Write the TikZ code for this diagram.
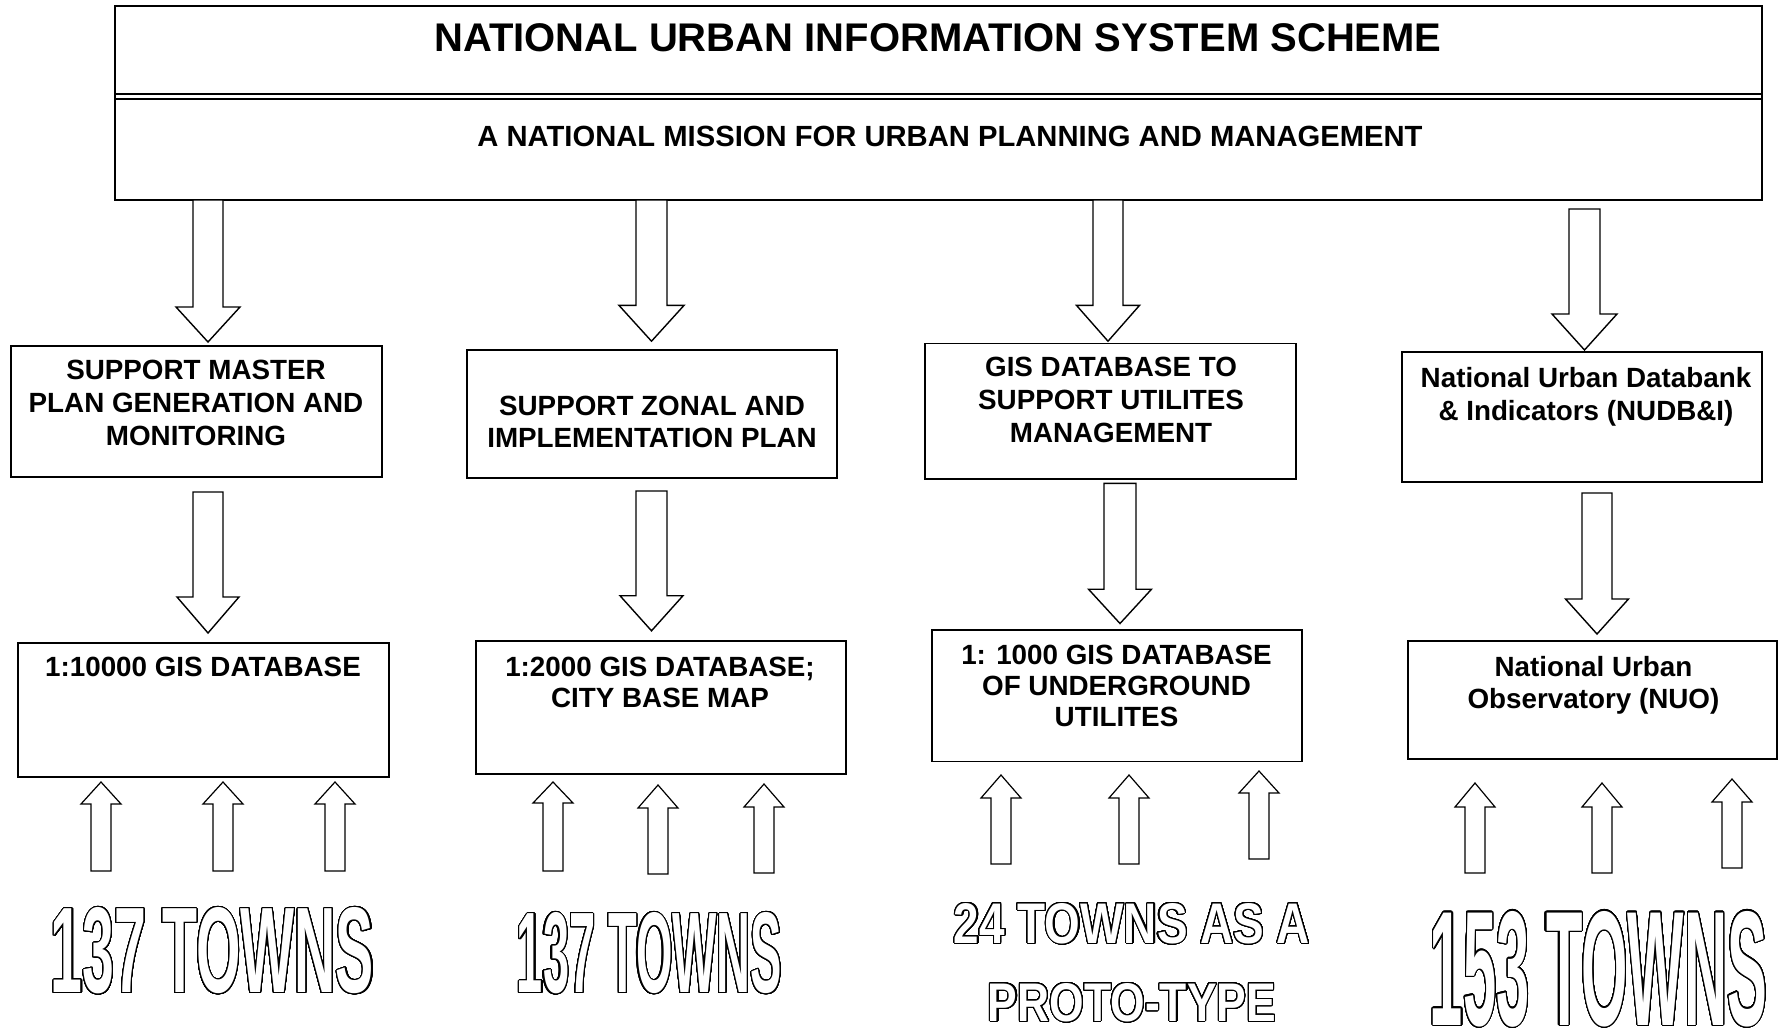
\documentclass[tikz,border=0pt]{standalone}
\usepackage{fontspec}
\setmainfont{Liberation Sans}
\usepackage{contour}
\contourlength{1.1pt}
\contournumber{48}
\newcommand\blockarr[6]{%
  \draw[blk] ({#1-#2},#4) -- ({#1-#2},#5) -- ({#1-#3},#5) -- (#1,#6) -- ({#1+#3},#5) -- ({#1+#2},#5) -- ({#1+#2},#4) -- cycle;}
\newcommand\outtext[3]{\contour{black}{\resizebox{#1pt}{#2pt}{\bfseries #3}}}
\begin{document}
\begin{tikzpicture}[x=1pt,y=-1pt,
  box/.style={draw, line width=1.8pt, inner sep=0pt, fill=white},
  lbl/.style={align=center, inner sep=0pt, font=\fontsize{27.8}{#1}\selectfont\bfseries},
  lbl/.default=31,
  blk/.style={draw, line width=1.4pt, fill=white, line join=miter},
  ublk/.style={draw, line width=1.2pt, fill=white, line join=miter},
  outl/.style={inner sep=0pt, text=white}]
\useasboundingbox (0,0) rectangle (1778,1034);
\fill[white] (0,0) rectangle (1778,1034);

% top box
\node[box, minimum width=1647pt, minimum height=194pt] (top) at (938.5,103) {};
\draw[line width=1.5pt] (115,94) -- (1762,94);
\draw[line width=1.5pt] (115,99) -- (1762,99);
\node[inner sep=0pt, font=\fontsize{40}{48}\selectfont\bfseries] (title) at (938,37.5) {NATIONAL URBAN INFORMATION SYSTEM SCHEME};
\node[inner sep=0pt, font=\fontsize{29.2}{34}\selectfont\bfseries] (sub) at (950,136) {A NATIONAL MISSION FOR URBAN PLANNING AND MANAGEMENT};

% second row boxes
\node[box, minimum width=371pt, minimum height=131pt] (b1) at (196.5,411.5) {};
\node[lbl=33] (t1) at (196,402.5) {SUPPORT MASTER\\PLAN GENERATION AND\\MONITORING};
\node[box, minimum width=370pt, minimum height=127.6pt] (b2) at (652,413.8) {};
\node[lbl=32] (t2) at (652,422.2) {SUPPORT ZONAL AND\\IMPLEMENTATION PLAN};
\node[box, minimum width=371pt, minimum height=135.3pt] (b3) at (1110.5,411.2) {};
\node[lbl=33] (t3) at (1111,400) {GIS DATABASE TO\\SUPPORT UTILITES\\MANAGEMENT};
\node[box, minimum width=360pt, minimum height=130pt] (b4) at (1582,417) {};
\node[lbl=33] (t4) at (1586,396.5) {National Urban Databank\\\& Indicators (NUDB\&I)};

% third row boxes
\node[box, minimum width=371pt, minimum height=134pt] (d1) at (203.5,710) {};
\node[lbl] (u1) at (203,667) {1:10000 GIS DATABASE};
\node[box, minimum width=370pt, minimum height=133.3pt] (d2) at (661,707.4) {};
\node[lbl=30.5] (u2) at (660,682.5) {1:2000 GIS DATABASE;\\CITY BASE MAP};
\node[box, minimum width=370pt, minimum height=131.4pt] (d3) at (1117,695.7) {};
\node[lbl=31] (u3) at (1116.5,686.2) {1: 1000 GIS DATABASE\\OF UNDERGROUND\\UTILITES};
\node[box, minimum width=369pt, minimum height=118pt] (d4) at (1592.5,700) {};
\node[lbl=32] (u4) at (1593.5,685) {National Urban\\Observatory (NUO)};

% down block arrows
\blockarr{208}{15}{32}{200}{307}{342}
\blockarr{208}{15}{31}{492}{597}{633}
\blockarr{651.5}{15.5}{32.5}{200}{305.4}{341.2}
\blockarr{651.5}{15.5}{31.5}{491}{595.7}{630.8}
\blockarr{1108}{15}{31.5}{200}{305.4}{341.2}
\blockarr{1120}{16}{31.5}{483.3}{589.2}{623.5}
\blockarr{1584.5}{15.5}{32.5}{209}{314}{350}
\blockarr{1597}{15}{31.5}{493}{599}{634}

% up block arrows
\begin{scope}[blk/.style={ublk}]
\blockarr{101}{10}{20}{871}{804}{782}
\blockarr{223}{10}{20}{871}{804}{782}
\blockarr{335}{10}{20}{871}{804}{782}
\blockarr{553}{10}{20}{871}{803}{782}
\blockarr{658}{10}{20}{874}{808}{785}
\blockarr{764}{10}{20}{873}{807}{784}
\blockarr{1001}{10}{20}{864}{798}{775}
\blockarr{1129}{10}{20}{864}{798}{775}
\blockarr{1259}{10}{20}{859}{793}{771}
\blockarr{1475}{10}{20}{873}{807}{783}
\blockarr{1602}{10}{20}{873}{807}{783}
\blockarr{1732}{10}{20}{868}{802}{779}
\end{scope}

% outlined town counts
\node[outl] (o1) at (212.5,951.5) {\outtext{323}{85}{137 TOWNS}};
\node[outl] (o2) at (649.5,954) {\outtext{265}{80}{137 TOWNS}};
\node[outl] (o3a) at (1132,924) {\outtext{356}{40}{24 TOWNS AS A}};
\node[outl] (o3b) at (1132,1003) {\outtext{288}{38}{PROTO-TYPE}};
\node[outl] (o4) at (1598.5,969.5) {\outtext{337}{114}{153 TOWNS}};
\end{tikzpicture}
\end{document}
